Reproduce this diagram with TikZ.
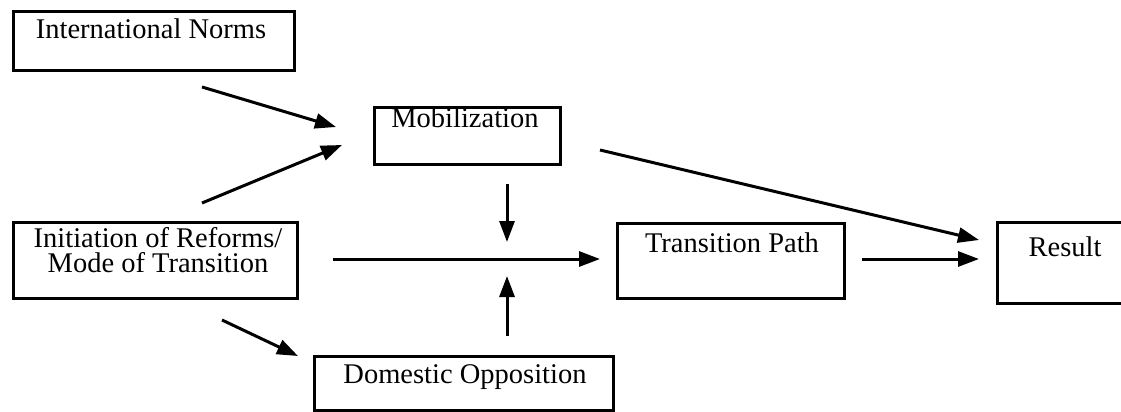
\documentclass[tikz,border=0pt]{standalone}
\usepackage{fontspec}
\setmainfont{Liberation Serif}
\usetikzlibrary{arrows.meta}
\begin{document}
\begin{tikzpicture}[x=1pt, y=-1pt,
  box/.style={draw=black, line width=2.6pt, inner sep=0pt, anchor=north west},
  lbl/.style={inner sep=0pt, anchor=base, font=\fontsize{28.5}{25}\selectfont},
  conn/.style={line width=3pt, -{Triangle[length=21pt, width=15pt]}}
]
\clip (0,0) rectangle (1121,412);
\fill[white] (0,0) rectangle (1121,412);

% boxes
\node[box, minimum width=281pt, minimum height=59pt] (norms) at (12,10) {};
\node[box, minimum width=186pt, minimum height=57pt] (mob) at (373,106) {};
\node[box, minimum width=284pt, minimum height=76pt] (init) at (12,221) {};
\node[box, minimum width=227pt, minimum height=75pt] (trans) at (616,222) {};
\node[box, minimum width=160pt, minimum height=81pt] (res) at (996,221) {};
\node[box, minimum width=299pt, minimum height=54pt] (dom) at (313,355) {};

% labels (a two-line node sits on the baseline of its last line)
\node[lbl] (normsT) at (151,39) {International Norms};
\node[lbl] (mobT) at (465,127) {Mobilization};
\node[lbl, align=center] (initT) at (158,272) {Initiation of Reforms/\\Mode of Transition};
\node[lbl] (transT) at (732,252) {Transition Path};
\node[lbl] (resT) at (1065,256) {Result};
\node[lbl] (domT) at (465,383) {Domestic Opposition};

% arrow end points
\coordinate (a1s) at (202,87);   \coordinate (a1e) at (336,127);
\coordinate (a2s) at (202,203);  \coordinate (a2e) at (342,145);
\coordinate (a3s) at (222,320);  \coordinate (a3e) at (298,356);
\coordinate (a4s) at (333,259);  \coordinate (a4e) at (600,259);
\coordinate (a5s) at (507,184);  \coordinate (a5e) at (507,242);
\coordinate (a6s) at (507,336);  \coordinate (a6e) at (507,276);
\coordinate (a7s) at (600,150);  \coordinate (a7e) at (979,240);
\coordinate (a8s) at (862,259);  \coordinate (a8e) at (979,259);

% connectors
\draw[conn] (a1s) -- (a1e);
\draw[conn] (a2s) -- (a2e);
\draw[conn] (a3s) -- (a3e);
\draw[conn] (a4s) -- (a4e);
\draw[conn] (a5s) -- (a5e);
\draw[conn] (a6s) -- (a6e);
\draw[conn] (a7s) -- (a7e);
\draw[conn] (a8s) -- (a8e);
\end{tikzpicture}
\end{document}
